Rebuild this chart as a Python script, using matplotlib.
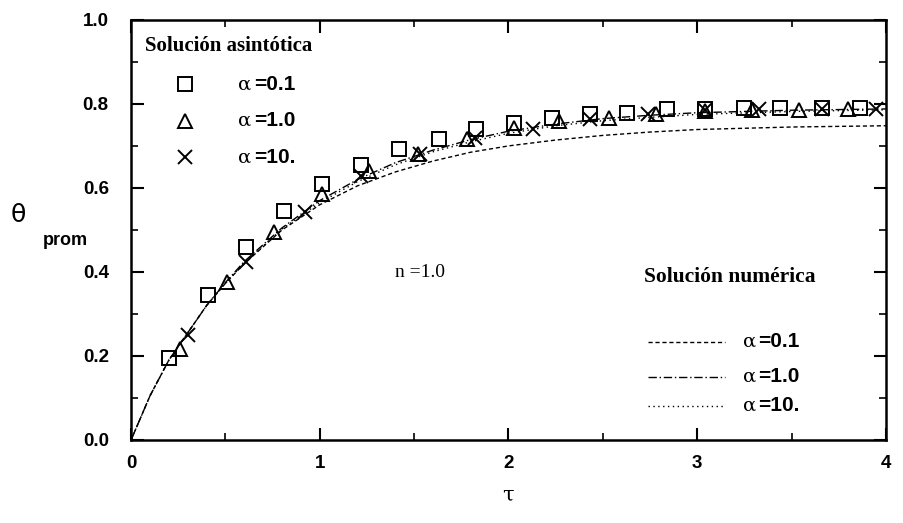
import matplotlib
matplotlib.use("Agg")
import matplotlib.pyplot as plt
from matplotlib.ticker import MultipleLocator

# Asymptotic solution markers
tau_sq = [0.20, 0.41, 0.61, 0.81, 1.01, 1.22, 1.42, 1.63, 1.83, 2.03, 2.23, 2.43, 2.63, 2.84, 3.04, 3.25, 3.44, 3.66, 3.86]
th_sq = [0.195, 0.345, 0.46, 0.545, 0.609, 0.655, 0.692, 0.717, 0.741, 0.755, 0.767, 0.775, 0.779, 0.787, 0.789, 0.790, 0.790, 0.790, 0.791]

tau_tri = [0.26, 0.51, 0.76, 1.01, 1.26, 1.52, 1.78, 2.03, 2.27, 2.53, 2.78, 3.04, 3.29, 3.54, 3.80]
th_tri = [0.217, 0.376, 0.496, 0.585, 0.640, 0.681, 0.717, 0.743, 0.760, 0.767, 0.775, 0.782, 0.786, 0.786, 0.789]

tau_x = [0.30, 0.61, 0.92, 1.22, 1.53, 1.82, 2.13, 2.43, 2.74, 3.04, 3.33, 3.66, 3.95]
th_x = [0.25, 0.424, 0.542, 0.628, 0.681, 0.72, 0.741, 0.765, 0.775, 0.785, 0.787, 0.789, 0.789]

# Numerical solution curves
tau_num = [0, 0.1, 0.2, 0.3, 0.4, 0.5, 0.6, 0.8, 1.0, 1.2, 1.4, 1.6, 1.8, 2.0, 2.25, 2.5, 2.75, 3.0, 3.5, 4.0]
th_num_01 = [0, 0.105, 0.19, 0.255, 0.32, 0.373, 0.42, 0.50, 0.56, 0.605, 0.638, 0.664, 0.685, 0.700, 0.714, 0.725, 0.733, 0.739, 0.745, 0.748]
th_num_1 = [0, 0.105, 0.19, 0.255, 0.32, 0.375, 0.425, 0.505, 0.57, 0.62, 0.66, 0.69, 0.715, 0.735, 0.752, 0.765, 0.773, 0.779, 0.785, 0.788]
th_num_10 = [0, 0.105, 0.19, 0.255, 0.32, 0.373, 0.422, 0.502, 0.565, 0.615, 0.655, 0.686, 0.710, 0.730, 0.748, 0.760, 0.768, 0.775, 0.782, 0.786]

xticks = [0, 1, 2, 3, 4]
yticks = [0.0, 0.2, 0.4, 0.6, 0.8, 1.0]

fig = plt.figure(figsize=(9.04, 5.23), dpi=100)
ax = fig.add_axes([0.145, 0.1587, 0.835, 0.8033])

ax.plot(tau_num, th_num_01, color="black", lw=1.0, ls=(0, (3, 2)))
ax.plot(tau_num, th_num_1, color="black", lw=1.0, ls=(0, (6, 2, 1, 2)))
ax.plot(tau_num, th_num_10, color="black", lw=1.0, ls=(0, (1, 2.5)))

mk = dict(ls="none", mfc="none", mec="black", mew=1.4, ms=9.5)
ax.plot(tau_sq, th_sq, marker="s", **mk)
ax.plot(tau_tri, th_tri, marker="^", **mk)
ax.plot(tau_x, th_x, marker="x", **dict(mk, ms=10.5))

ax.set_xlim(0, 4)
ax.set_ylim(0, 1.0)
ax.set_xticks(xticks)
ax.set_yticks(yticks)
ax.set_xticklabels([str(t) for t in xticks])
ax.set_yticklabels([f"{t:.1f}" for t in yticks])
ax.xaxis.set_minor_locator(MultipleLocator(0.5))
ax.yaxis.set_minor_locator(MultipleLocator(0.1))
ax.tick_params(which="major", direction="in", length=9, width=1.5, top=True, right=True,
               labelsize=13.5)
ax.tick_params(axis="x", which="major", pad=11)
ax.tick_params(axis="y", which="major", pad=16)
ax.tick_params(which="minor", direction="in", length=5, width=1.2, top=True, right=True)
for lab in ax.get_xticklabels() + ax.get_yticklabels():
    lab.set_fontfamily("Liberation Sans")
    lab.set_fontweight("bold")
for s in ax.spines.values():
    s.set_linewidth(1.8)

# axis labels
fig.text(0.020, 0.588, "θ", fontsize=18, family="DejaVu Sans", ha="center", va="center")
fig.text(0.072, 0.540, "prom", fontsize=13, family="Liberation Sans", fontweight="bold",
         ha="center", va="center")
fig.text(0.562, 0.053, "τ", fontsize=15, family="DejaVu Serif", ha="center", va="center")

# Asymptotic legend
serif = "Liberation Serif"
ax.text(0.018, 0.937, "Solución asintótica", transform=ax.transAxes, family=serif,
        fontweight="bold", fontsize=15, ha="left", va="center")
leg_y = [0.847, 0.760, 0.673]
leg_m = ["s", "^", "x"]
leg_t = ["=0.1", "=1.0", "=10."]
for yy, m, t in zip(leg_y, leg_m, leg_t):
    ax.plot([0.071], [yy], transform=ax.transAxes, marker=m,
            **dict(mk, ms=9.5 if m != "x" else 10.5), clip_on=False)
    ax.text(0.142, yy, "α", transform=ax.transAxes, family="DejaVu Serif", fontsize=14,
            ha="left", va="center")
    ax.text(0.163, yy, t, transform=ax.transAxes, family="Liberation Sans", fontweight="bold",
            fontsize=15, ha="left", va="center")

ax.text(0.350, 0.398, "n =1.0", transform=ax.transAxes, family=serif, fontsize=14,
        ha="left", va="center")

# Numerical legend
ax.text(0.680, 0.387, "Solución numérica", transform=ax.transAxes, family=serif,
        fontweight="bold", fontsize=15.5, ha="left", va="center")
nl_y = [0.234, 0.150, 0.082]
nl_ls = [(0, (3, 2)), (0, (6, 2, 1, 2)), (0, (1, 2.5))]
for yy, ls, t in zip(nl_y, nl_ls, leg_t):
    ax.plot([0.685, 0.787], [yy, yy], transform=ax.transAxes, color="black", lw=1.0, ls=ls)
    ax.text(0.810, yy, "α", transform=ax.transAxes, family="DejaVu Serif", fontsize=14,
            ha="left", va="center")
    ax.text(0.831, yy, t, transform=ax.transAxes, family="Liberation Sans", fontweight="bold",
            fontsize=15, ha="left", va="center")

fig.savefig("out.png", dpi=100)
